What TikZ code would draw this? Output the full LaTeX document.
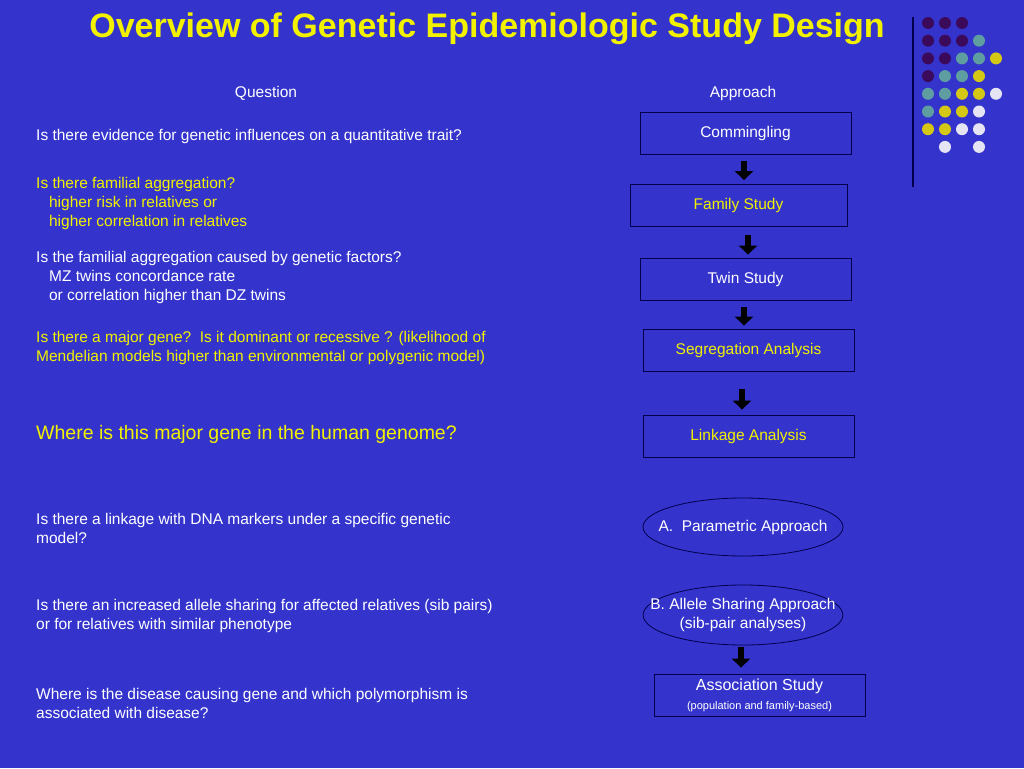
\documentclass[tikz,border=0pt]{standalone}
\usepackage{fontspec}
\setmainfont{Liberation Sans}
\usetikzlibrary{positioning,arrows.meta,shapes.geometric}
\definecolor{bgblue}{HTML}{3434CC}
\definecolor{ttl}{HTML}{F2F200}
\definecolor{dpurple}{HTML}{3C0A5A}
\definecolor{dteal}{HTML}{5F9EA0}
\definecolor{dyellow}{HTML}{D4C814}
\definecolor{dwhite}{HTML}{E4E4F4}
\begin{document}
\begin{tikzpicture}[x=1pt,y=-1pt,
    % Styles
    every node/.style={font=\fontsize{15.5}{19}\selectfont, text=white, inner sep=0pt},
    qtext/.style={anchor=north west, align=left},
    qyel/.style={qtext, text=ttl},
    stepbox/.style={draw=black!70!blue, line width=0.8pt, minimum width=211, minimum height=42},
    oval/.style={ellipse, draw=black!70!blue, line width=0.8pt, align=center, inner xsep=-22pt},
    flow/.style={line width=6pt, black, -{Triangle[width=18pt,length=9pt]}}
]
\fill[bgblue] (0,0) rectangle (1024,768);
\useasboundingbox (0,0) rectangle (1024,768);

% Title
\node[text=ttl, font=\fontsize{34}{36}\selectfont\bfseries] (title) at (487,29) {Overview of Genetic Epidemiologic Study Design};
\node (qhead) at (266,93) {Question};
\node (ahead) at (743,93) {Approach};

% Questions
\node[qtext] (q1) at (36,129) {Is there evidence for genetic influences on a quantitative trait?};
\node[qyel] (q2) at (36,177) {Is there familial aggregation?\\\ \ \ higher risk in relatives or\\\ \ \ higher correlation in relatives};
\node[qtext] (q3) at (36,251) {Is the familial aggregation caused by genetic factors?\\\ \ \ MZ twins concordance rate\\\ \ \ or correlation higher than DZ twins};
\node[qyel] (q4) at (36,331) {Is there a major gene?\ \ Is it dominant or recessive ? (likelihood of\\Mendelian models higher than environmental or polygenic model)};
\node[qyel, font=\fontsize{19.5}{22}\selectfont] (q5) at (36,425) {Where is this major gene in the human genome?};
\node[qtext] (q6) at (36,513) {Is there a linkage with DNA markers under a specific genetic\\model?};
\node[qtext] (q7) at (36,599) {Is there an increased allele sharing for affected relatives (sib pairs)\\or for relatives with similar phenotype};
\node[qtext] (q8) at (36,688) {Where is the disease causing gene and which polymorphism is\\associated with disease?};

% Approaches
\node[stepbox] (comm) at (745.5,133.5) {Commingling};
\node[stepbox, minimum width=217, text=ttl] (fam) at (738.5,205.5) {Family Study};
\node[stepbox] (twin) at (745.5,279) {Twin Study};
\node[stepbox, text=ttl] (seg) at (748.5,350) {Segregation Analysis};
\node[stepbox, text=ttl] (link) at (748.5,436) {Linkage Analysis};
\node[oval, minimum width=200, minimum height=58] (para) at (743,527) {A.\ \ Parametric Approach};
\node[oval, minimum height=60] (allele) at (743,615) {B. Allele Sharing Approach\\(sib-pair analyses)};
\node[stepbox, align=center] (assoc) at (759.5,695) {{\fontsize{16}{18}\selectfont Association Study}\\{\fontsize{11}{14}\selectfont(population and family-based)}};

% Arrows
\draw[flow, shorten <=6pt, shorten >=4pt] (comm.south -| 744,0) -- (fam.north -| 744,0);
\draw[flow, shorten <=8pt, shorten >=3pt] (fam.south -| 748,0) -- (twin.north -| 748,0);
\draw[flow, shorten <=7pt, shorten >=3pt] (twin.south -| 744,0) -- (seg.north -| 744,0);
\draw[flow, shorten <=18pt, shorten >=5pt] (seg.south -| 742,0) -- (link.north -| 742,0);
\draw[flow, shorten <=2pt, shorten >=6pt] (allele.south -| 741,0) -- (assoc.north -| 741,0);

% Decoration dots
\draw[black!70!blue, line width=1.5pt] (913,17) -- (913,187);
\foreach \row/\cols in {0/{1/dpurple,2/dpurple,3/dpurple},
    1/{1/dpurple,2/dpurple,3/dpurple,4/dteal},
    2/{1/dpurple,2/dpurple,3/dteal,4/dteal,5/dyellow},
    3/{1/dpurple,2/dteal,3/dteal,4/dyellow},
    4/{1/dteal,2/dteal,3/dyellow,4/dyellow,5/dwhite},
    5/{1/dteal,2/dyellow,3/dyellow,4/dwhite},
    6/{1/dyellow,2/dyellow,3/dwhite,4/dwhite},
    7/{2/dwhite,4/dwhite}}
  \foreach \c/\col in \cols
    \fill[\col] ({911+17*\c},{23+17.7*\row}) circle (6);
\end{tikzpicture}
\end{document}
